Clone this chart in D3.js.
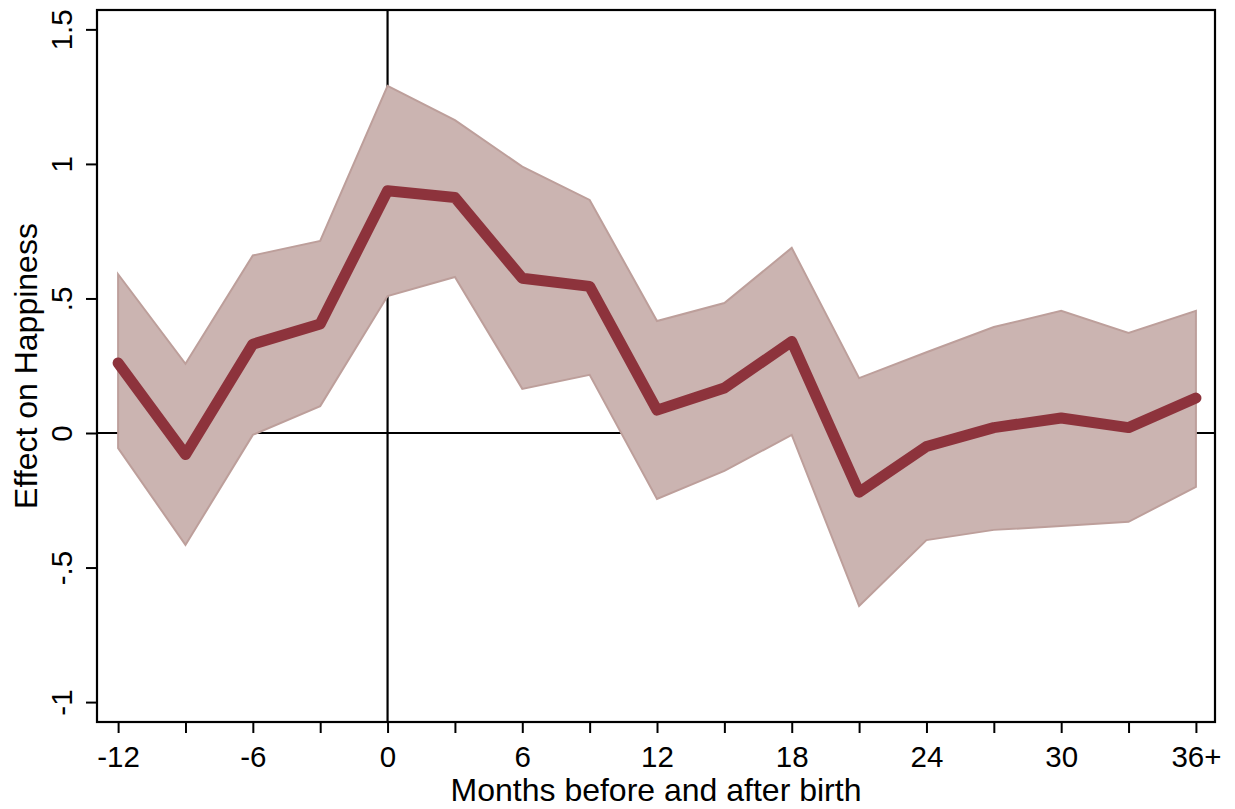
<!DOCTYPE html>
<html>
<head>
<meta charset="utf-8">
<title>Effect on Happiness</title>
<script src="https://d3js.org/d3.v7.min.js"></script>
<style>
body { margin: 0; background: #fff; }
text { font-family: "Liberation Sans", Arial, Helvetica, sans-serif; fill: #000; }
</style>
</head>
<body>
<div id="chart"></div>
<script>
// months relative to birth (36 = "36+")
var months = [-12, -9, -6, -3, 0, 3, 6, 9, 12, 15, 18, 21, 24, 27, 30, 33, 36];
var effect = [0.26, -0.08, 0.33, 0.405, 0.90, 0.875, 0.575, 0.545, 0.085, 0.167, 0.34, -0.22, -0.05, 0.02, 0.056, 0.02, 0.13];
var upper  = [0.59, 0.257, 0.66, 0.714, 1.29, 1.163, 0.99, 0.866, 0.416, 0.483, 0.688, 0.204, 0.30, 0.394, 0.454, 0.372, 0.454];
var lower  = [-0.056, -0.416, -0.007, 0.10, 0.509, 0.58, 0.164, 0.216, -0.245, -0.141, -0.007, -0.643, -0.398, -0.36, -0.346, -0.33, -0.20];
var xTicks = [-12, -9, -6, -3, 0, 3, 6, 9, 12, 15, 18, 21, 24, 27, 30, 33, 36];
var xLabels = {"-12": "-12", "-6": "-6", "0": "0", "6": "6", "12": "12", "18": "18", "24": "24", "30": "30", "36": "36+"};
var yTicks = [-1, -0.5, 0, 0.5, 1, 1.5];
var yLabels = ["-1", "-.5", "0", ".5", "1", "1.5"];

var width = 1235, height = 809;
var mLeft = 97, mRight = 1215, mTop = 10, mBottom = 722;

var svg = d3.select("#chart").append("svg")
  .attr("width", width).attr("height", height);

var x = d3.scaleLinear().domain([-12.94, 36.85]).range([mLeft, mRight]);
var y = d3.scaleLinear().domain([-1.074, 1.572]).range([mBottom, mTop]);

var data = months.map(function(m, i) {
  return {m: m, v: effect[i], hi: upper[i], lo: lower[i]};
});

// reference lines at x=0 and y=0 (behind the band)
svg.append("line")
  .attr("x1", mLeft).attr("x2", mRight)
  .attr("y1", y(0)).attr("y2", y(0))
  .attr("stroke", "#000").attr("stroke-width", 2.2);
svg.append("line")
  .attr("x1", x(0)).attr("x2", x(0))
  .attr("y1", mTop).attr("y2", mBottom)
  .attr("stroke", "#000").attr("stroke-width", 2.2);

// confidence band
var area = d3.area()
  .x(function(d) { return x(d.m); })
  .y0(function(d) { return y(d.lo); })
  .y1(function(d) { return y(d.hi); });
svg.append("path")
  .datum(data)
  .attr("d", area)
  .attr("fill", "#cbb4b1")
  .attr("stroke", "#bd9f9b")
  .attr("stroke-width", 2);

// point estimates
var line = d3.line()
  .x(function(d) { return x(d.m); })
  .y(function(d) { return y(d.v); });
svg.append("path")
  .datum(data)
  .attr("d", line)
  .attr("fill", "none")
  .attr("stroke", "#8d333c")
  .attr("stroke-width", 11)
  .attr("stroke-linejoin", "round")
  .attr("stroke-linecap", "round");

// frame
svg.append("rect")
  .attr("x", mLeft).attr("y", mTop)
  .attr("width", mRight - mLeft).attr("height", mBottom - mTop)
  .attr("fill", "none").attr("stroke", "#000").attr("stroke-width", 2.2);

// x axis
var xAxis = d3.axisBottom(x)
  .tickValues(xTicks)
  .tickSize(11)
  .tickFormat(function(d) { return xLabels[d] || ""; });
var gx = svg.append("g")
  .attr("transform", "translate(0," + mBottom + ")")
  .call(xAxis);
gx.select(".domain").remove();
gx.selectAll(".tick line").attr("stroke", "#000").attr("stroke-width", 2);
gx.selectAll(".tick text")
  .style("font-size", "29.5px")
  .attr("dy", null)
  .attr("y", 45);

// y axis
var yAxis = d3.axisLeft(y)
  .tickValues(yTicks)
  .tickSize(11)
  .tickFormat(function(d, i) { return yLabels[i]; });
var gy = svg.append("g")
  .attr("transform", "translate(" + mLeft + ",0)")
  .call(yAxis);
gy.select(".domain").remove();
gy.selectAll(".tick line").attr("stroke", "#000").attr("stroke-width", 2);
gy.selectAll(".tick text")
  .style("font-size", "29.5px")
  .attr("x", null).attr("dy", null)
  .attr("text-anchor", "middle")
  .attr("transform", "translate(-25,0) rotate(-90)");

// axis titles
svg.append("text")
  .attr("x", (mLeft + mRight) / 2)
  .attr("y", 801)
  .attr("text-anchor", "middle")
  .style("font-size", "32px")
  .text("Months before and after birth");

svg.append("text")
  .attr("transform", "translate(37," + ((mTop + mBottom) / 2) + ") rotate(-90)")
  .attr("text-anchor", "middle")
  .style("font-size", "32px")
  .text("Effect on Happiness");
</script>
</body>
</html>
